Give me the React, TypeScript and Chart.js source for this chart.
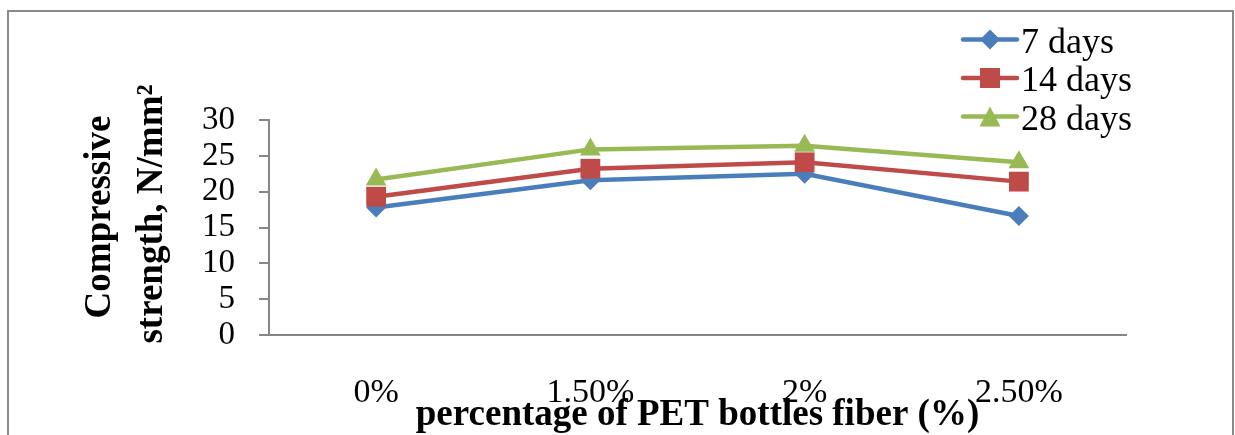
import React, { useEffect, useRef } from "react";
import { Chart, registerables } from "chart.js";

Chart.register(...registerables);

const categories = ["0%", "1.50%", "2%", "2.50%"];
const days7 = [17.8, 21.6, 22.5, 16.6];
const days14 = [19.3, 23.2, 24.1, 21.4];
const days28 = [21.7, 25.9, 26.4, 24.1];
const seriesLabels = ["7 days", "14 days", "28 days"];
const yTicks = [0, 5, 10, 15, 20, 25, 30];
const yTitle = ["Compressive", "strength, N/mm²"];
const xTitle = "percentage of PET bottles fiber (%)";

const COLORS = ["#4A7EBB", "#BE4B48", "#98B954"];
const STYLES = ["rectRot", "rect", "triangle"];
const RADII = [10, 14, 12];
const AXIS = "#868686";
const FONT = "'Liberation Serif', 'Times New Roman', serif";

function drawMarker(ctx: CanvasRenderingContext2D, style: string, x: number, y: number) {
  ctx.beginPath();
  if (style === "rectRot") {
    ctx.moveTo(x, y - 10);
    ctx.lineTo(x + 10, y);
    ctx.lineTo(x, y + 10);
    ctx.lineTo(x - 10, y);
  } else if (style === "rect") {
    ctx.rect(x - 10, y - 10, 20, 20);
  } else {
    ctx.moveTo(x, y - 10);
    ctx.lineTo(x + 10.5, y + 10);
    ctx.lineTo(x - 10.5, y + 10);
  }
  ctx.closePath();
  ctx.fill();
}

const decor = {
  id: "decor",
  beforeDraw(chart: any) {
    const ctx = chart.ctx as CanvasRenderingContext2D;
    ctx.save();
    ctx.fillStyle = "#ffffff";
    ctx.fillRect(0, 0, chart.width, chart.height);
    ctx.strokeStyle = "#898989";
    ctx.lineWidth = 2;
    ctx.beginPath();
    ctx.moveTo(8, 470);
    ctx.lineTo(8, 11);
    ctx.lineTo(1233, 11);
    ctx.lineTo(1233, 470);
    ctx.stroke();
    ctx.restore();
  },
  afterDraw(chart: any) {
    const ctx = chart.ctx as CanvasRenderingContext2D;
    const area = chart.chartArea;
    ctx.save();
    ctx.fillStyle = "#000";
    // y title
    ctx.font = `bold 37px ${FONT}`;
    ctx.textAlign = "center";
    ctx.textBaseline = "alphabetic";
    const yCenters = [217, 214];
    const xBase = [110, 162];
    yTitle.forEach((line, i) => {
      ctx.save();
      ctx.translate(xBase[i], yCenters[i]);
      ctx.rotate(-Math.PI / 2);
      ctx.fillText(line, 0, 0);
      ctx.restore();
    });
    // x title
    ctx.font = `bold 37px ${FONT}`;
    ctx.fillText(xTitle, (area.left + area.right) / 2, 425);
    // legend
    chart.data.datasets.forEach((ds: any, i: number) => {
      const y = 39.5 + i * 38.5;
      ctx.strokeStyle = COLORS[i];
      ctx.fillStyle = COLORS[i];
      ctx.lineWidth = 4.5;
      ctx.lineCap = "round";
      ctx.beginPath();
      ctx.moveTo(963, y);
      ctx.lineTo(1017, y);
      ctx.stroke();
      drawMarker(ctx, STYLES[i], 990, y);
      ctx.fillStyle = "#000";
      ctx.font = `36px ${FONT}`;
      ctx.textAlign = "left";
      ctx.textBaseline = "alphabetic";
      ctx.fillText(ds.label, 1021, y + 13);
    });
    ctx.restore();
  },
};

export default function App() {
  const ref = useRef<HTMLCanvasElement | null>(null);
  useEffect(() => {
    if (!ref.current) return;
    const series = [days7, days14, days28];
    const chart = new Chart(ref.current, {
      type: "line",
      data: {
        labels: categories,
        datasets: series.map((d, i) => ({
          label: seriesLabels[i],
          data: d,
          borderColor: COLORS[i],
          backgroundColor: COLORS[i],
          borderWidth: 4.5,
          pointStyle: STYLES[i] as any,
          pointRadius: RADII[i],
          pointHoverRadius: RADII[i],
          pointBorderWidth: 0,
          pointBackgroundColor: COLORS[i],
          tension: 0,
          order: 3 - i,
        })),
      },
      options: {
        responsive: false,
        animation: false,
        devicePixelRatio: 1,
        layout: { padding: { left: 0, top: 120, right: 109, bottom: 0 } },
        plugins: {
          legend: { display: false },
          tooltip: { enabled: false },
          title: { display: false },
        },
        scales: {
          x: {
            type: "category",
            offset: true,
            grid: { display: false },
            border: { display: true, color: AXIS, width: 2 },
            ticks: {
              color: "#000",
              font: { family: FONT, size: 34 },
              padding: 30,
              maxRotation: 0,
              autoSkip: false,
            },
            afterFit: (s: any) => {
              s.height = 100;
            },
          },
          y: {
            min: yTicks[0],
            max: yTicks[yTicks.length - 1],
            grid: {
              display: true,
              drawOnChartArea: false,
              drawTicks: true,
              tickLength: 10,
              color: AXIS,
              lineWidth: 2,
            },
            border: { display: true, color: AXIS, width: 2 },
            ticks: {
              stepSize: yTicks[1] - yTicks[0],
              autoSkip: false,
              color: "#000",
              font: { family: FONT, size: 33 },
              padding: 24,
            },
            afterFit: (s: any) => {
              s.width = 269;
            },
          },
        },
      },
      plugins: [decor],
    });
    return () => chart.destroy();
  }, []);
  return (
    <div style={{ position: "fixed", left: 0, top: 0, width: 1235, height: 435, background: "#fff" }}>
      <canvas ref={ref} width={1235} height={435} style={{ width: 1235, height: 435, display: "block" }} />
    </div>
  );
}
